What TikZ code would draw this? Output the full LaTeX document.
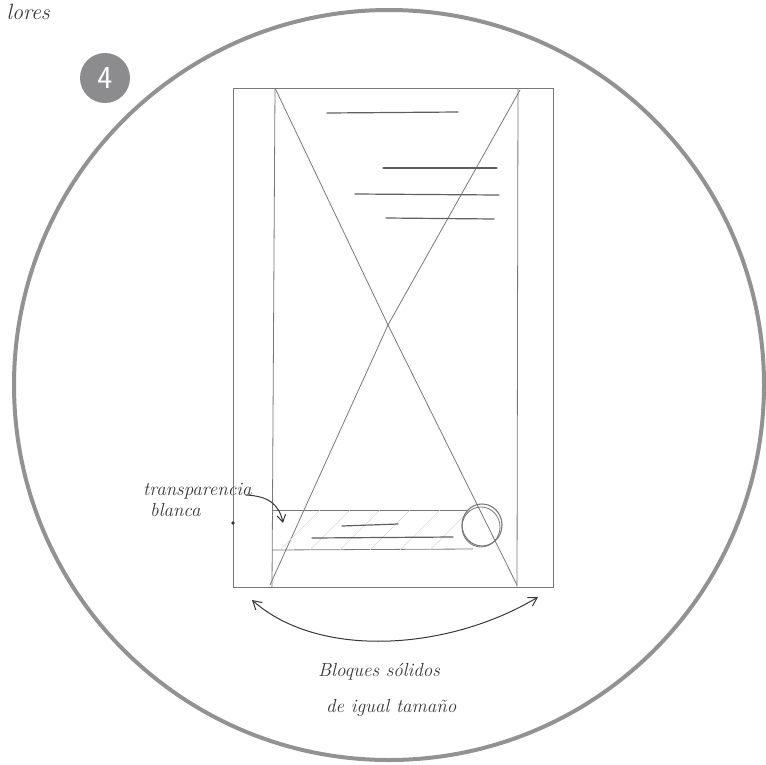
\documentclass[tikz,border=0pt]{standalone}
\usepackage{fontspec}
\usepackage{tikz}
\usetikzlibrary{arrows.meta,positioning,calc}
\usepackage{xcolor}
\definecolor{ringgray}{RGB}{146,146,148}
\definecolor{badgegray}{RGB}{140,140,142}
\definecolor{pencil}{RGB}{120,120,120}
\definecolor{ink}{RGB}{55,55,55}

\begin{document}
\begin{tikzpicture}[x=1pt,y=-1pt, every node/.style={font=\fontsize{19}{21}\selectfont\itshape,text=ink,inner sep=0pt}, sketch/.style={draw=pencil,line width=0.8pt}, faint/.style={draw=pencil!30,line width=0.5pt}, bar/.style={draw=ink!80,line width=1.2pt,line cap=round}, arr/.style={{Straight Barb[length=3mm,width=3.5mm]}-{Straight Barb[length=3mm,width=3.5mm]},ink,line width=1pt}]
\useasboundingbox (0,0) rectangle (766,764);
% ring and badge
\draw[ringgray,line width=4pt] (389,385) circle (375pt);
\node[circle,fill=badgegray,minimum size=50pt,text=white,font=\sffamily\fontsize{32}{32}\selectfont] (num) at (105,78) {4};
\node[anchor=base east,font=\fontsize{22}{22}\selectfont\itshape] (prev) at (50,19) {lores};
% phone frame
\draw[sketch] (233,88) rectangle (553,587);
\draw[sketch] (275,88) -- (272,587);
\draw[sketch] (518,88) -- (517,587);
\draw[sketch] (275,88) -- (388,325) -- (517,585);
\draw[sketch] (520,90) -- (388,325) -- (270,585);
% text lines on top
\draw[bar] (327,113) -- (458,112);
\draw[bar] (383,168) -- (497,168);
\draw[bar] (355,194) -- (499,195);
\draw[bar] (386,218) -- (494,219);
% white band
\draw[sketch] (272,510) -- (468,510);
\draw[sketch] (272,550) -- (473,549);
\foreach \x in {280,310,340,370,400,430} \draw[faint] (\x,550) -- (\x+40,510);
\draw[bar] (342,526) -- (398,524);
\draw[bar] (312,538) -- (453,537);
\draw[sketch,line width=1.1pt] (482,525) ellipse (20pt and 21pt);
\draw[sketch] (481,527) ellipse (19pt and 20pt);
\fill[ink] (233,523) circle (1.8pt);
% labels
\node[anchor=base west] (tr) at (143,495) {transparencia};
\node[anchor=base west] (bl) at (150,516) {blanca};
\coordinate (bandin) at (283,523);
\draw[-{Straight Barb[length=2.5mm,width=3mm]},ink,line width=1pt] ($(tr.base east)+(-6,0)$) .. controls (268,496) and (279,504) .. (bandin);
\coordinate (lb) at (252,600);
\coordinate (rb) at (538,597);
\draw[arr] (lb) .. controls (320,660) and (450,650) .. (rb);
\node[anchor=base west] (bs) at (318,676) {Bloques sólidos};
\node[anchor=base west] (di) at (326,712) {de igual tamaño};
\end{tikzpicture}
\end{document}
